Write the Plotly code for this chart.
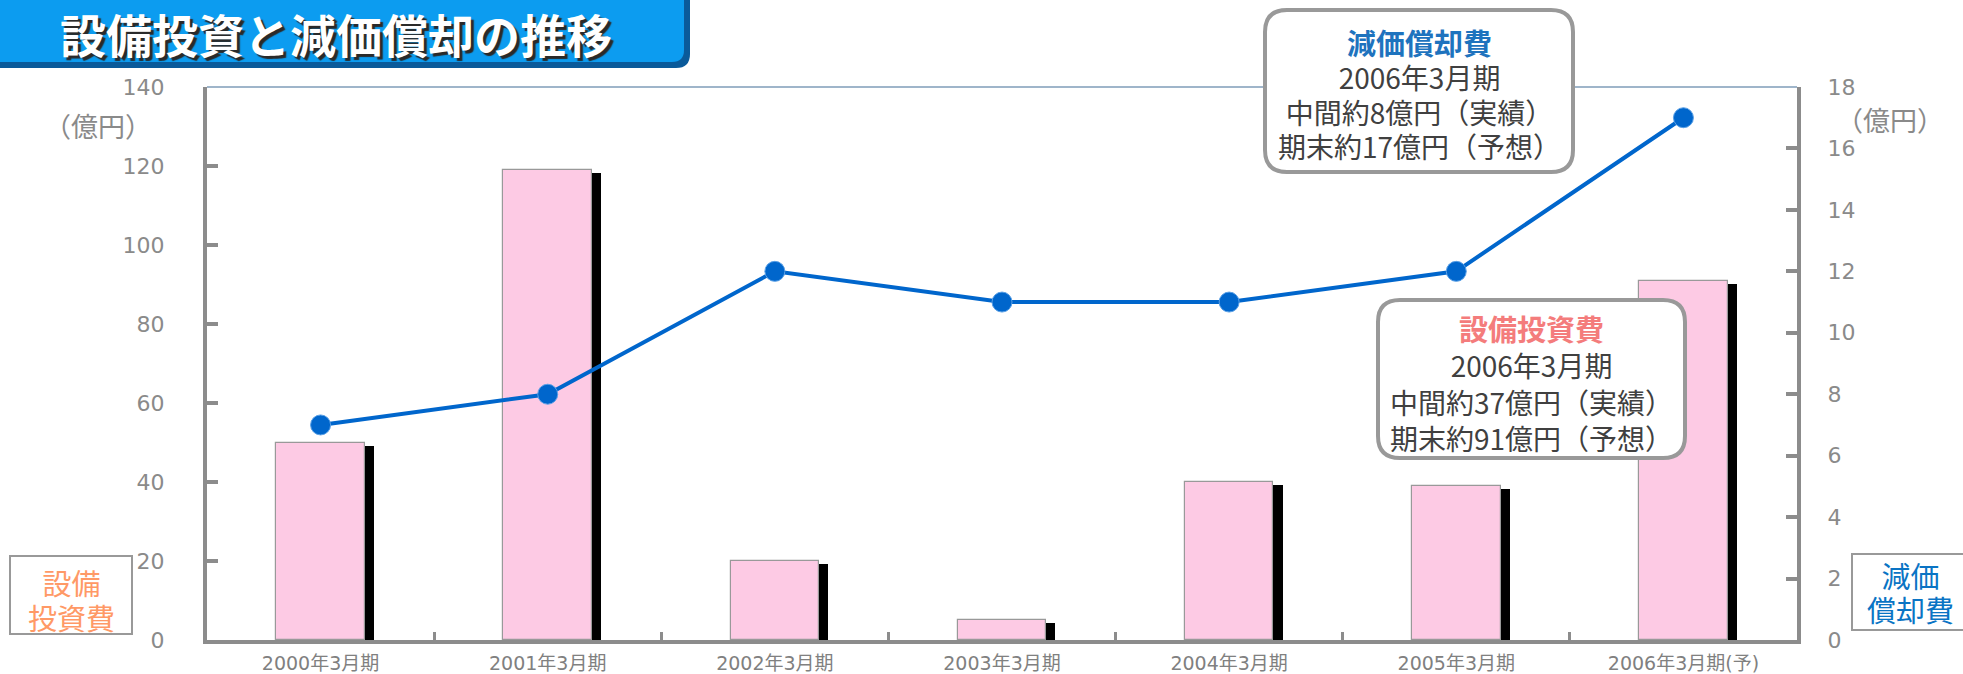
import plotly.graph_objects as go

# ---------------- data ----------------
categories = ["2000年3月期", "2001年3月期", "2002年3月期", "2003年3月期",
              "2004年3月期", "2005年3月期", "2006年3月期(予)"]
capex = [50, 119, 20, 5, 40, 39, 91]          # 設備投資費 (億円, left axis)
depreciation = [7, 8, 12, 11, 11, 12, 17]      # 減価償却費 (億円, right axis)
left_ticks = [0, 20, 40, 60, 80, 100, 120, 140]
right_ticks = [0, 2, 4, 6, 8, 10, 12, 14, 16, 18]

title_text = "設備投資と減価償却の推移"
dep_box_lines = ["減価償却費", "2006年3月期", "中間約8億円（実績）", "期末約17億円（予想）"]
capex_box_lines = ["設備投資費", "2006年3月期", "中間約37億円（実績）", "期末約91億円（予想）"]

# ---------------- geometry helpers (pixel -> paper) ----------------
W, H = 1963, 674
L, R, T, B = 207, 1797, 87, 640


def px(x):
    return (x - L) / (R - L)


def py(y):
    return (B - y) / (B - T)


def rrect(x0, y0, x1, y1, r):
    return (f"M {px(x0 + r)},{py(y0)} L {px(x1 - r)},{py(y0)} "
            f"Q {px(x1)},{py(y0)} {px(x1)},{py(y0 + r)} "
            f"L {px(x1)},{py(y1 - r)} Q {px(x1)},{py(y1)} {px(x1 - r)},{py(y1)} "
            f"L {px(x0 + r)},{py(y1)} Q {px(x0)},{py(y1)} {px(x0)},{py(y1 - r)} "
            f"L {px(x0)},{py(y0 + r)} Q {px(x0)},{py(y0)} {px(x0 + r)},{py(y0)} Z")


def title_path(x1, y1, r):
    return (f"M {px(0)},{py(0)} L {px(x1)},{py(0)} L {px(x1)},{py(y1 - r)} "
            f"Q {px(x1)},{py(y1)} {px(x1 - r)},{py(y1)} L {px(0)},{py(y1)} Z")


GREY = "#8c8c8c"
CJK = "Noto Sans CJK JP"
TICKFONT = dict(family="DejaVu Sans, " + CJK, size=22, color="#8a8a8a")

fig = go.Figure()

BW = 0.39
# shadow bars
fig.add_trace(go.Bar(x=categories, y=capex, base=-0.8, width=BW, offset=-BW / 2 + 0.04,
                     marker=dict(color="#000000", line=dict(width=0)),
                     hoverinfo="skip", showlegend=False))
# main bars
fig.add_trace(go.Bar(x=categories, y=capex, width=BW, offset=-BW / 2,
                     marker=dict(color="#fdcae4", line=dict(color="#999999", width=1.2)),
                     name="設備投資費", showlegend=False))
# depreciation line
fig.add_trace(go.Scatter(x=categories, y=depreciation, yaxis="y2", mode="lines+markers",
                         line=dict(color="#0066cc", width=4),
                         marker=dict(size=20, color="#0066cc", line=dict(color="#5aa0e6", width=1)),
                         name="減価償却費", showlegend=False))

shapes = []
# top thin border
shapes.append(dict(type="line", xref="paper", yref="paper", x0=0, x1=1, y0=1, y1=1,
                   line=dict(color="#7f9db8", width=1.5), layer="below"))
# title banner
shapes.append(dict(type="path", xref="paper", yref="paper", path=title_path(690, 68, 14),
                   fillcolor="#0a5a9a", line=dict(width=0)))
shapes.append(dict(type="path", xref="paper", yref="paper", path=title_path(684, 62, 12),
                   fillcolor="#0c9cf0", line=dict(width=0)))
# callout boxes
shapes.append(dict(type="path", xref="paper", yref="paper", path=rrect(1265, 10, 1573, 172, 22),
                   fillcolor="white", line=dict(color="#999999", width=4)))
shapes.append(dict(type="path", xref="paper", yref="paper", path=rrect(1378, 300, 1685, 458, 22),
                   fillcolor="white", line=dict(color="#999999", width=4)))
# axis-label boxes
shapes.append(dict(type="rect", xref="paper", yref="paper", x0=px(10), x1=px(132), y0=py(556), y1=py(634),
                   fillcolor="white", line=dict(color="#999999", width=2)))
shapes.append(dict(type="rect", xref="paper", yref="paper", x0=px(1852), x1=px(1975), y0=py(554), y1=py(630),
                   fillcolor="white", line=dict(color="#999999", width=2)))

ann = []


def add_text(text, x, y, size, color, bold=False, shadow=None, family=CJK):
    ann.append(dict(text=f"<b>{text}</b>" if bold else text, xref="paper", yref="paper",
                    x=px(x), y=py(y), xanchor="center", yanchor="middle", showarrow=False,
                    font=dict(family=family, size=size, color=color,
                              **({"shadow": shadow} if shadow else {}))))


def box_text(lines, title_color, x, y, base_size):
    head = f"<span style='color:{title_color};font-size:29px'><b>{lines[0]}</b></span>"
    body = "<br>".join(f"<span style='font-size:28px'>{s}</span>" for s in lines[1:])
    add_text(head + "<br>" + body, x, y, base_size, "#404040")


add_text(title_text, 336, 33, 46, "white", bold=True, shadow="3px 3px 1px #2a2a2a")

box_text(dep_box_lines, "#1e73be", 1419, 94, 26.5)
box_text(capex_box_lines, "#f47c7c", 1531, 382, 28)

# unit labels
add_text("（億円）", 98, 126, 27, "#8a8a8a")
add_text("（億円）", 1890, 119, 27, "#8a8a8a")
# axis-name boxes
add_text("<span style='font-size:29px'>設備<br>投資費</span>", 71, 599, 27, "#ff9966")
add_text("<span style='font-size:29px'>減価<br>償却費</span>", 1910, 592, 26, "#0a74c4")

fig.update_layout(
    width=W, height=H,
    margin=dict(l=L, r=W - R, t=T, b=H - B),
    paper_bgcolor="white", plot_bgcolor="white",
    barmode="overlay", bargap=0, showlegend=False,
    xaxis=dict(type="category", range=[-0.5, len(categories) - 0.5], automargin=False,
               showline=True, linecolor=GREY, linewidth=4,
               ticks="inside", tickson="boundaries", ticklen=8, tickwidth=3, tickcolor=GREY,
               showgrid=False, tickfont=dict(family="DejaVu Sans, " + CJK, size=19, color="#808080"),
               ticklabelstandoff=3),
    yaxis=dict(range=[0, 140], tickvals=left_ticks, showgrid=False, zeroline=False, automargin=False,
               showline=True, linecolor=GREY, linewidth=4,
               ticks="inside", ticklen=11, tickwidth=4, tickcolor=GREY,
               tickfont=TICKFONT, ticklabelstandoff=34),
    yaxis2=dict(range=[0, 18], tickvals=right_ticks, overlaying="y", side="right",
                showgrid=False, zeroline=False, automargin=False,
                showline=True, linecolor=GREY, linewidth=4,
                ticks="inside", ticklen=11, tickwidth=4, tickcolor=GREY,
                tickfont=TICKFONT, ticklabelstandoff=22),
    shapes=shapes, annotations=ann,
)

fig.write_html("out.html")
